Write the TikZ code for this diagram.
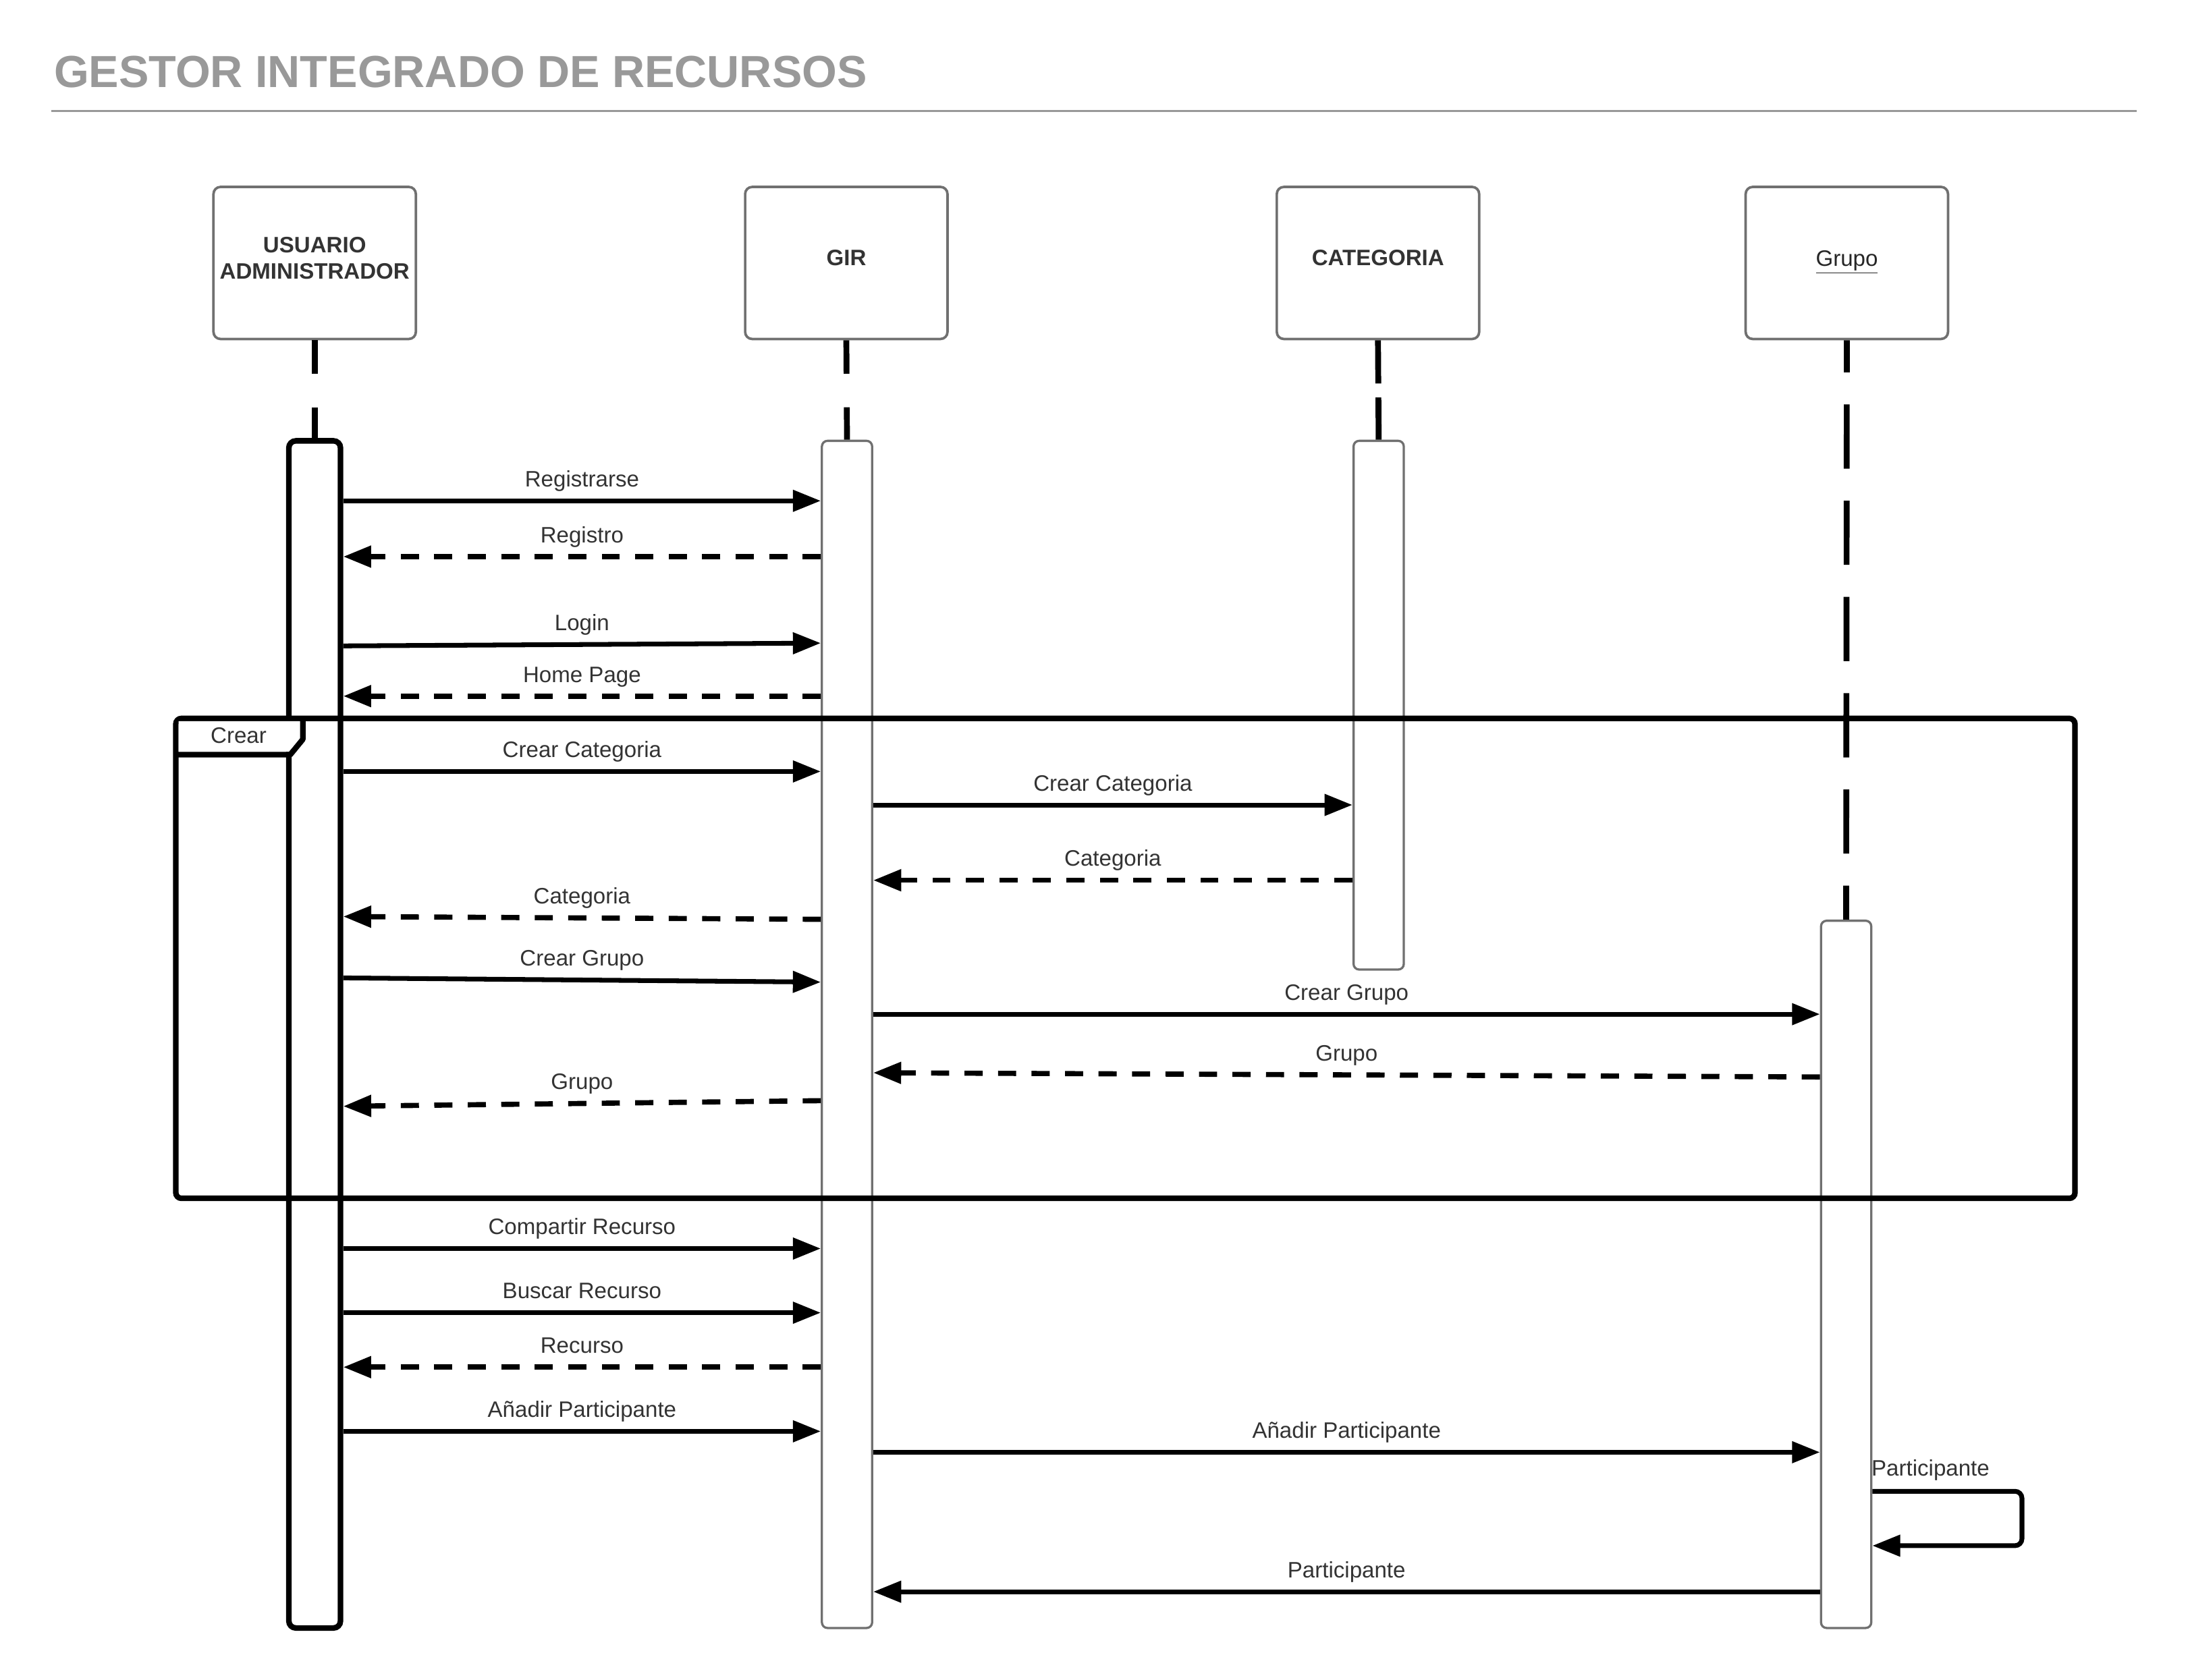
\documentclass[tikz,border=0pt]{standalone}
\usepackage{fontspec}
\setmainfont{Liberation Sans}
\usetikzlibrary{arrows.meta}
\definecolor{txt}{HTML}{333333}
\definecolor{ttl}{HTML}{999999}
\definecolor{brd}{HTML}{707070}
\begin{document}
\begin{tikzpicture}[x=1pt,y=-1pt,
  head/.style={draw=brd, line width=1.8pt, rounded corners=5pt, fill=white,
    minimum width=145pt, minimum height=109pt, inner sep=0pt},
  headtxt/.style={yshift=3.5pt, inner sep=0pt,
    font=\fontsize{16}{19}\selectfont\bfseries, text=txt, align=center},
  act/.style={draw=brd, line width=1.6pt, rounded corners=4pt, fill=white,
    minimum width=36pt, inner sep=0pt},
  actu/.style={draw=black, line width=4pt, rounded corners=5pt, fill=white,
    minimum width=37pt, inner sep=0pt},
  life/.style={line width=4.2pt, draw=black},
  msg/.style={line width=3.4pt, draw=black, -{Triangle[length=20pt,width=15pt]}},
  ret/.style={msg, line width=3.7pt, dash pattern=on 13pt off 11pt},
  lbl/.style={font=\fontsize{16}{19}\selectfont, text=txt, anchor=base, inner sep=0pt, yshift=10pt},
  frm/.style={line width=4pt, draw=black, rounded corners=4pt}
]
\fill[white] (0,0) rectangle (1568,1204);
\useasboundingbox (0,0) rectangle (1568,1204);

% title
\node[anchor=base west, inner sep=0pt, font=\fontsize{32.2}{38}\selectfont\bfseries, text=ttl] (title) at (38.5,62.6) {GESTOR INTEGRADO DE RECURSOS};
\draw[draw=ttl, line width=1.6pt] (36.7,79.4) coordinate (tl1) -- (1531,79.4) coordinate (tl2);

% heads
\node[head, label={[headtxt]center:USUARIO\\ADMINISTRADOR}] (usu) at (225.5,188.5) {};
\node[head, label={[headtxt]center:GIR}] (gir) at (606.5,188.5) {};
\node[head, label={[headtxt]center:CATEGORIA}] (cat) at (987.5,188.5) {};
\node[head, label={[headtxt, yshift=-3pt, font=\fontsize{16}{19}\selectfont, text=black!85]center:\underline{Grupo}}] (grp) at (1323.5,188.5) {};

% activation bars
\node[actu, minimum height=851pt] (ua) at (225.5,741.5) {};
\node[act, minimum height=851pt] (ga) at (607,741.5) {};
\node[act, minimum height=379pt] (ca) at (988,505.5) {};
\node[act, minimum height=507pt] (pa) at (1323,913.5) {};

% lifelines
\draw[life, dash pattern=on 24pt off 24pt] (usu.south) -- (ua.north);
\draw[life, dash pattern=on 24pt off 24pt] (gir.south) -- (ga.north);
\draw[life, dash pattern=on 31pt off 10pt] (cat.south) -- (ca.north);
\draw[life, dash pattern=on 46pt off 23pt, dash phase=23pt] (grp.south) -- (pa.north);

% frame
\draw[frm] (126,515) rectangle (1487,859);
\fill[white] (128,517) -- (215,517) -- (215,530) -- (207,539) -- (128,539) -- cycle;
\draw[line width=4pt, line join=round] (126,541) -- (208,541) -- (217,530) -- (217,515);
\node[font=\fontsize{16}{19}\selectfont, text=txt, inner sep=0pt] (crear) at (171,527) {Crear};

% messages
\draw[msg] (ua.east |- 0,359) -- (ga.west |- 0,359) node[lbl, midway] {Registrarse};
\draw[ret] (ga.west |- 0,399) -- (ua.east |- 0,399) node[lbl, midway] {Registro};
\draw[msg] (ua.east |- 0,463) -- (ga.west |- 0,461) node[lbl, midway] {Login};
\draw[ret] (ga.west |- 0,499) -- (ua.east |- 0,499) node[lbl, midway] {Home Page};

\draw[msg] (ua.east |- 0,553) -- (ga.west |- 0,553) node[lbl, midway] {Crear Categoria};
\draw[msg] (ga.east |- 0,577) -- (ca.west |- 0,577) node[lbl, midway] {Crear Categoria};
\draw[ret] (ca.west |- 0,631) -- (ga.east |- 0,631) node[lbl, midway] {Categoria};
\draw[ret] (ga.west |- 0,659) -- (ua.east |- 0,657) node[lbl, midway] {Categoria};
\draw[msg] (ua.east |- 0,701) -- (ga.west |- 0,704) node[lbl, midway] {Crear Grupo};
\draw[msg] (ga.east |- 0,727) -- (pa.west |- 0,727) node[lbl, midway] {Crear Grupo};
\draw[ret] (pa.west |- 0,772) -- (ga.east |- 0,769) node[lbl, midway] {Grupo};
\draw[ret] (ga.west |- 0,789) -- (ua.east |- 0,793) node[lbl, midway] {Grupo};

\draw[msg] (ua.east |- 0,895) -- (ga.west |- 0,895) node[lbl, midway] {Compartir Recurso};
\draw[msg] (ua.east |- 0,941) -- (ga.west |- 0,941) node[lbl, midway] {Buscar Recurso};
\draw[ret] (ga.west |- 0,980) -- (ua.east |- 0,980) node[lbl, midway] {Recurso};
\draw[msg] (ua.east |- 0,1026) -- (ga.west |- 0,1026) node[lbl, midway] {Añadir Participante};
\draw[msg] (ga.east |- 0,1041) -- (pa.west |- 0,1041) node[lbl, midway] {Añadir Participante};

\coordinate (sr1) at (1449,1069);
\coordinate (sr2) at (1449,1108);
\draw[msg, rounded corners=5pt] (pa.east |- 0,1069) -- (sr1) -- (sr2) -- (pa.east |- 0,1108);
\node[font=\fontsize{16}{19}\selectfont, text=txt, anchor=base west, inner sep=0pt] (selfl) at (1341,1058) {Participante};

\draw[msg] (pa.west |- 0,1141) -- (ga.east |- 0,1141) node[lbl, midway] {Participante};
\end{tikzpicture}
\end{document}
